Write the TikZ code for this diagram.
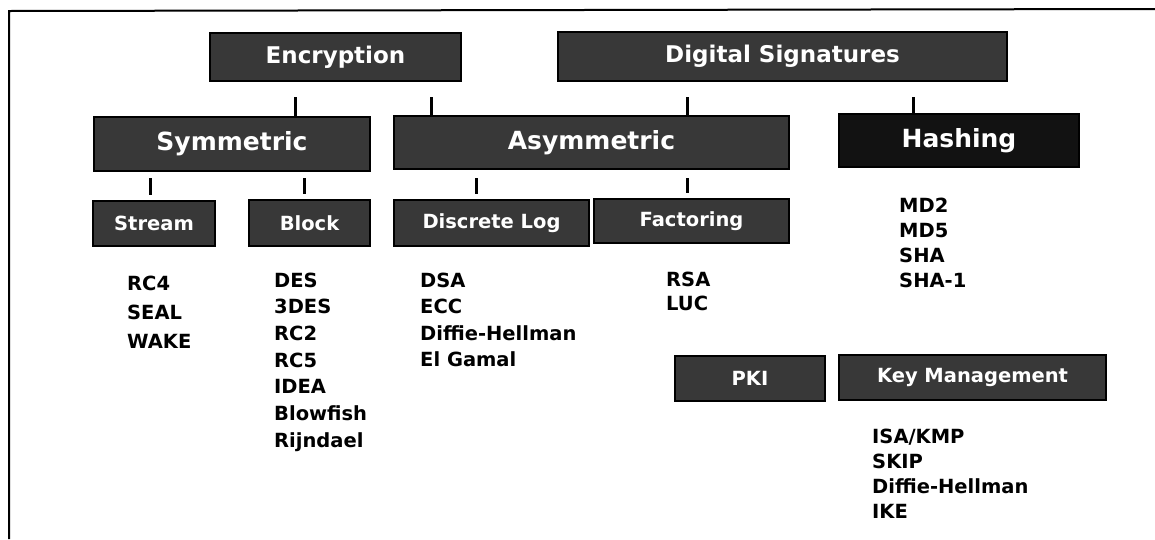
\documentclass[tikz,border=0pt]{standalone}
\usepackage{fontspec}
\setmainfont{DejaVu Sans}
\begin{document}
\begin{tikzpicture}[x=1pt,y=-1pt,
  box/.style={draw=black,line width=1.2pt,fill=black!78,text=white,inner sep=0pt,font=\bfseries},
  darkbox/.style={box,fill=black!93},
  big/.style={font=\bfseries\fontsize{25}{28}\selectfont},
  top/.style={font=\bfseries\fontsize{23}{26}\selectfont},
  mid/.style={font=\bfseries\fontsize{19.5}{22}\selectfont},
  item/.style={anchor=base west,inner sep=0pt,font=\bfseries\fontsize{19.5}{22}\selectfont},
  tickline/.style={line width=3pt}]
\useasboundingbox (0,0) rectangle (1155,539);
\draw[line width=2pt] (9,539) -- (9,11) -- (1155,9);
% row 1
\node[box,top,minimum width=251pt,minimum height=48pt] (enc) at (335.5,57) {Encryption};
\node[box,top,minimum width=449pt,minimum height=49pt] (ds) at (782.5,56.5) {Digital Signatures};
% row 2
\node[box,big,minimum width=276pt,minimum height=54pt] (sym) at (232,144) {Symmetric};
\node[box,big,minimum width=395pt,minimum height=53pt] (asym) at (591.5,142.5) {Asymmetric};
\node[darkbox,big,minimum width=240pt,minimum height=53pt] (hash) at (959,140.5) {Hashing};
% row 3
\node[box,mid,minimum width=122pt,minimum height=45pt] (stream) at (154,223.5) {Stream};
\node[box,mid,minimum width=121pt,minimum height=46pt] (block) at (309.5,223) {Block};
\node[box,mid,minimum width=195pt,minimum height=46pt] (dlog) at (491.5,223) {Discrete Log};
\node[box,mid,minimum width=195pt,minimum height=44pt] (fact) at (691.5,221) {Factoring};
\node[box,mid,minimum width=150pt,minimum height=45pt] (pki) at (750,378.5) {PKI};
\node[box,mid,minimum width=267pt,minimum height=45pt] (km) at (972.5,377.5) {Key Management};
% ticks row1 -> row2
\coordinate (a1) at (295,97);
\coordinate (a2) at (431,97);
\coordinate (a3) at (687,97);
\coordinate (a4) at (913,97);
\draw[tickline] (a1) -- (a1 |- sym.north);
\draw[tickline] (a2) -- (a2 |- asym.north);
\draw[tickline] (a3) -- (a3 |- asym.north);
\draw[tickline] (a4) -- (a4 |- hash.north);
% ticks row2 -> row3
\coordinate (b1) at (150,178);
\coordinate (b2) at (304,178);
\coordinate (b3) at (476,178);
\coordinate (b4) at (687,178);
\draw[tickline,shorten >=5pt] (b1) -- (b1 |- stream.north);
\draw[tickline,shorten >=5pt] (b2) -- (b2 |- block.north);
\draw[tickline,shorten >=5pt] (b3) -- (b3 |- dlog.north);
\draw[tickline,shorten >=5pt] (b4) -- (b4 |- fact.north);
% lists
\foreach \t [count=\i] in {RC4,SEAL,WAKE}
  \node[item] (st\i) at (127,{290+(\i-1)*29}) {\t};
\foreach \t [count=\i] in {DES,3DES,RC2,RC5,IDEA,Blowfish,Rijndael}
  \node[item] (bl\i) at (274,{287+(\i-1)*26.7}) {\t};
\foreach \t [count=\i] in {DSA,ECC,Diffie-Hellman,El Gamal}
  \node[item] (dl\i) at (420,{287+(\i-1)*26.5}) {\t};
\foreach \t [count=\i] in {RSA,LUC}
  \node[item] (fa\i) at (666,{286+(\i-1)*24}) {\t};
\foreach \t [count=\i] in {MD2,MD5,SHA,SHA-1}
  \node[item] (hs\i) at (899,{212+(\i-1)*25.3}) {\t};
\foreach \t [count=\i] in {ISA/KMP,SKIP,Diffie-Hellman,IKE}
  \node[item] (km\i) at (872,{443+(\i-1)*25}) {\t};
\end{tikzpicture}
\end{document}
